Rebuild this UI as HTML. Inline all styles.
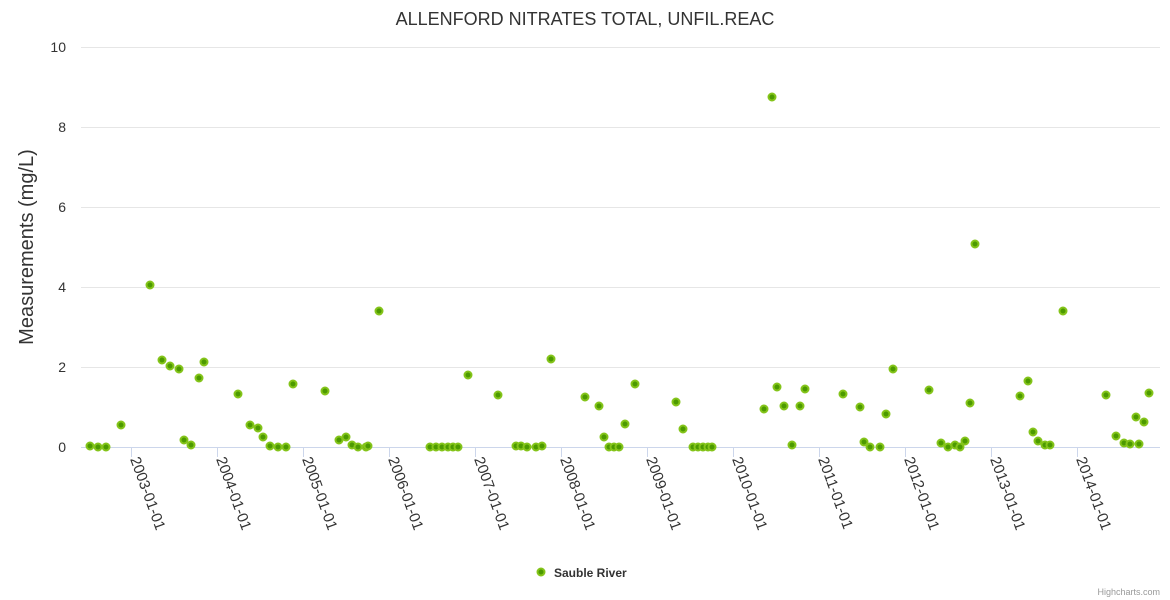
<!DOCTYPE html>
<html><head><meta charset="utf-8"><style>
html,body{margin:0;padding:0;background:#fff;}
svg{display:block;font-family:"Liberation Sans","DejaVu Sans",sans-serif;}
</style></head><body>
<svg width="1170" height="600" viewBox="0 0 1170 600" xmlns="http://www.w3.org/2000/svg">
<rect width="1170" height="600" fill="#fff"/>
<text x="585" y="25" text-anchor="middle" font-size="18" fill="#333">ALLENFORD NITRATES TOTAL, UNFIL.REAC</text>
<g stroke="#e6e6e6" stroke-width="1">
<line x1="81" y1="47.5" x2="1160" y2="47.5"/>
<line x1="81" y1="127.5" x2="1160" y2="127.5"/>
<line x1="81" y1="207.5" x2="1160" y2="207.5"/>
<line x1="81" y1="287.5" x2="1160" y2="287.5"/>
<line x1="81" y1="367.5" x2="1160" y2="367.5"/>
</g>
<line x1="81" y1="447.5" x2="1160" y2="447.5" stroke="#ccd6eb"/>
<g font-size="14" fill="#333" text-anchor="end">
<text x="66" y="52">10</text><text x="66" y="132">8</text><text x="66" y="212">6</text><text x="66" y="292">4</text><text x="66" y="372">2</text><text x="66" y="452">0</text>
</g>
<text transform="translate(33,247) rotate(-90)" text-anchor="middle" font-size="20" fill="#333">Measurements (mg/L)</text>
<g stroke="#ccd6eb">
<line x1="131.5" y1="447" x2="131.5" y2="457"/><line x1="217.5" y1="447" x2="217.5" y2="457"/><line x1="303.5" y1="447" x2="303.5" y2="457"/><line x1="389.5" y1="447" x2="389.5" y2="457"/><line x1="475.5" y1="447" x2="475.5" y2="457"/><line x1="561.5" y1="447" x2="561.5" y2="457"/><line x1="647.5" y1="447" x2="647.5" y2="457"/><line x1="733.5" y1="447" x2="733.5" y2="457"/><line x1="819.5" y1="447" x2="819.5" y2="457"/><line x1="905.5" y1="447" x2="905.5" y2="457"/><line x1="991.5" y1="447" x2="991.5" y2="457"/><line x1="1077.5" y1="447" x2="1077.5" y2="457"/>
</g>
<g font-size="15" fill="#333">
<text transform="translate(130,459) rotate(70)">2003-01-01</text>
<text transform="translate(216,459) rotate(70)">2004-01-01</text>
<text transform="translate(302,459) rotate(70)">2005-01-01</text>
<text transform="translate(388,459) rotate(70)">2006-01-01</text>
<text transform="translate(474,459) rotate(70)">2007-01-01</text>
<text transform="translate(560,459) rotate(70)">2008-01-01</text>
<text transform="translate(646,459) rotate(70)">2009-01-01</text>
<text transform="translate(732,459) rotate(70)">2010-01-01</text>
<text transform="translate(818,459) rotate(70)">2011-01-01</text>
<text transform="translate(904,459) rotate(70)">2012-01-01</text>
<text transform="translate(990,459) rotate(70)">2013-01-01</text>
<text transform="translate(1076,459) rotate(70)">2014-01-01</text>
</g>
<g fill="#4c9a00" stroke="#84c41a" stroke-width="2">
<circle cx="90" cy="446" r="3.5"/><circle cx="98" cy="447" r="3.5"/><circle cx="106" cy="447" r="3.5"/><circle cx="121" cy="425" r="3.5"/><circle cx="150" cy="285" r="3.5"/><circle cx="162" cy="360" r="3.5"/><circle cx="170" cy="366" r="3.5"/><circle cx="179" cy="369" r="3.5"/><circle cx="184" cy="440" r="3.5"/><circle cx="191" cy="445" r="3.5"/><circle cx="199" cy="378" r="3.5"/><circle cx="204" cy="362" r="3.5"/><circle cx="238" cy="394" r="3.5"/><circle cx="250" cy="425" r="3.5"/><circle cx="258" cy="428" r="3.5"/><circle cx="263" cy="437" r="3.5"/><circle cx="270" cy="446" r="3.5"/><circle cx="278" cy="447" r="3.5"/><circle cx="286" cy="447" r="3.5"/><circle cx="293" cy="384" r="3.5"/><circle cx="325" cy="391" r="3.5"/><circle cx="339" cy="440" r="3.5"/><circle cx="346" cy="437" r="3.5"/><circle cx="352" cy="445" r="3.5"/><circle cx="358" cy="447" r="3.5"/><circle cx="366" cy="447" r="3.5"/><circle cx="368" cy="446" r="3.5"/><circle cx="379" cy="311" r="3.5"/><circle cx="430" cy="447" r="3.5"/><circle cx="436" cy="447" r="3.5"/><circle cx="442" cy="447" r="3.5"/><circle cx="448" cy="447" r="3.5"/><circle cx="453" cy="447" r="3.5"/><circle cx="458" cy="447" r="3.5"/><circle cx="468" cy="375" r="3.5"/><circle cx="498" cy="395" r="3.5"/><circle cx="516" cy="446" r="3.5"/><circle cx="521" cy="446" r="3.5"/><circle cx="527" cy="447" r="3.5"/><circle cx="536" cy="447" r="3.5"/><circle cx="542" cy="446" r="3.5"/><circle cx="551" cy="359" r="3.5"/><circle cx="585" cy="397" r="3.5"/><circle cx="599" cy="406" r="3.5"/><circle cx="604" cy="437" r="3.5"/><circle cx="609" cy="447" r="3.5"/><circle cx="614" cy="447" r="3.5"/><circle cx="619" cy="447" r="3.5"/><circle cx="625" cy="424" r="3.5"/><circle cx="635" cy="384" r="3.5"/><circle cx="676" cy="402" r="3.5"/><circle cx="683" cy="429" r="3.5"/><circle cx="693" cy="447" r="3.5"/><circle cx="698" cy="447" r="3.5"/><circle cx="703" cy="447" r="3.5"/><circle cx="708" cy="447" r="3.5"/><circle cx="712" cy="447" r="3.5"/><circle cx="764" cy="409" r="3.5"/><circle cx="772" cy="97" r="3.5"/><circle cx="777" cy="387" r="3.5"/><circle cx="784" cy="406" r="3.5"/><circle cx="792" cy="445" r="3.5"/><circle cx="800" cy="406" r="3.5"/><circle cx="805" cy="389" r="3.5"/><circle cx="843" cy="394" r="3.5"/><circle cx="860" cy="407" r="3.5"/><circle cx="864" cy="442" r="3.5"/><circle cx="870" cy="447" r="3.5"/><circle cx="880" cy="447" r="3.5"/><circle cx="886" cy="414" r="3.5"/><circle cx="893" cy="369" r="3.5"/><circle cx="929" cy="390" r="3.5"/><circle cx="941" cy="443" r="3.5"/><circle cx="948" cy="447" r="3.5"/><circle cx="955" cy="445" r="3.5"/><circle cx="960" cy="447" r="3.5"/><circle cx="965" cy="441" r="3.5"/><circle cx="970" cy="403" r="3.5"/><circle cx="975" cy="244" r="3.5"/><circle cx="1020" cy="396" r="3.5"/><circle cx="1028" cy="381" r="3.5"/><circle cx="1033" cy="432" r="3.5"/><circle cx="1038" cy="441" r="3.5"/><circle cx="1045" cy="445" r="3.5"/><circle cx="1050" cy="445" r="3.5"/><circle cx="1063" cy="311" r="3.5"/><circle cx="1106" cy="395" r="3.5"/><circle cx="1116" cy="436" r="3.5"/><circle cx="1124" cy="443" r="3.5"/><circle cx="1130" cy="444" r="3.5"/><circle cx="1136" cy="417" r="3.5"/><circle cx="1139" cy="444" r="3.5"/><circle cx="1144" cy="422" r="3.5"/><circle cx="1149" cy="393" r="3.5"/>
<circle cx="541" cy="572" r="3.5"/>
</g>
<text x="554" y="577" font-size="12" font-weight="bold" fill="#333">Sauble River</text>
<text x="1160" y="595" text-anchor="end" font-size="9" fill="#999">Highcharts.com</text>
</svg>
</body></html>
